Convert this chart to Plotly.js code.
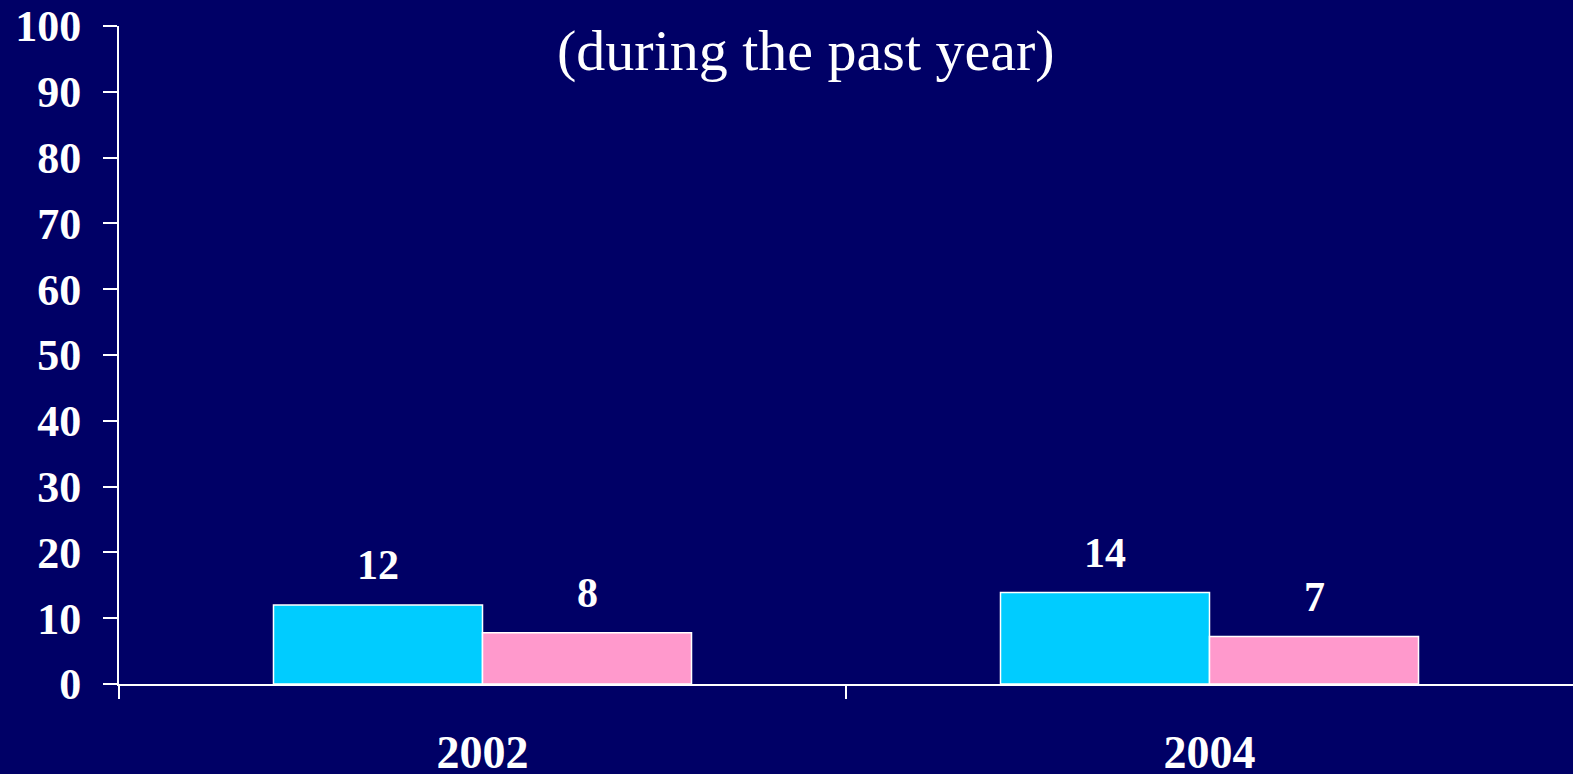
<!DOCTYPE html>
<html>
<head>
<meta charset="utf-8">
<script src="https://cdn.plot.ly/plotly-3.0.1.min.js"></script>
<style>html,body{margin:0;padding:0;background:#000066;}#chart{width:1573px;height:774px;}</style>
</head>
<body>
<div id="chart"></div>
<script>
var categories = ["2002", "2004"];
var seriesA = [12, 13.9];
var seriesB = [7.8, 7.2];
var labelsA = ["12", "14"];
var labelsB = ["8", "7"];
var yTicks = [0, 10, 20, 30, 40, 50, 60, 70, 80, 90, 100];
var subtitle = "(during the past year)";

var font = "'Liberation Serif', 'Times New Roman', serif";
var bargap = 0.425;
var half = (1 - bargap) / 4;

var traces = [
  {type: "bar", x: categories, y: seriesA, marker: {color: "#00CCFF", line: {color: "#FFFFFF", width: 1.5}}, hoverinfo: "none"},
  {type: "bar", x: categories, y: seriesB, marker: {color: "#FF99CC", line: {color: "#FFFFFF", width: 1.5}}, hoverinfo: "none"},
  {type: "scatter", x: [-0.5, 1.5], y: [0, 0], xaxis: "x2", yaxis: "y", mode: "lines", line: {width: 0}, hoverinfo: "none"}
];

var annotations = [];
categories.forEach(function (c, i) {
  annotations.push({x: i - half, y: seriesA[i], xref: "x", yref: "y", text: "<b>" + labelsA[i] + "</b>", showarrow: false, yanchor: "middle", yshift: 40, font: {family: font, size: 42, color: "#FFFFFF"}});
  annotations.push({x: i + half, y: seriesB[i], xref: "x", yref: "y", text: "<b>" + labelsB[i] + "</b>", showarrow: false, yanchor: "middle", yshift: 40, font: {family: font, size: 42, color: "#FFFFFF"}});
});
annotations.push({x: (806 - 119) / 1454, y: 1, xref: "paper", yref: "paper", yshift: -24, text: subtitle, showarrow: false, yanchor: "middle", xanchor: "center", font: {family: font, size: 58, color: "#FFFFFF"}});

var layout = {
  width: 1573, height: 774,
  paper_bgcolor: "#000066", plot_bgcolor: "#000066",
  margin: {l: 119, r: 0, t: 26, b: 90, pad: 0},
  showlegend: false,
  barmode: "group", bargap: bargap, bargroupgap: 0,
  xaxis: {
    type: "category", range: [-0.5, 1.5], showgrid: false, zeroline: false,
    showline: true, linecolor: "#FFFFFF", linewidth: 2,
    ticks: "", ticklabelstandoff: 27,
    tickfont: {family: font, size: 46, color: "#FFFFFF", weight: "bold"}
  },
  xaxis2: {
    type: "linear", overlaying: "x", anchor: "y", side: "bottom", range: [-0.5, 1.5],
    tickvals: [-0.5, 0.5], showticklabels: false, showgrid: false, zeroline: false, showline: false,
    ticks: "outside", ticklen: 14, tickwidth: 2, tickcolor: "#FFFFFF"
  },
  yaxis: {
    range: [0, 100], tickvals: yTicks, ticktext: yTicks.map(String),
    showgrid: false, zeroline: false,
    showline: true, linecolor: "#FFFFFF", linewidth: 2,
    ticks: "outside", ticklen: 14, tickwidth: 2, tickcolor: "#FFFFFF",
    ticklabelstandoff: 13,
    tickfont: {family: font, size: 44, color: "#FFFFFF", weight: "bold"}
  },
  annotations: annotations
};

Plotly.newPlot("chart", traces, layout, {displayModeBar: false, staticPlot: true});
</script>
</body>
</html>
